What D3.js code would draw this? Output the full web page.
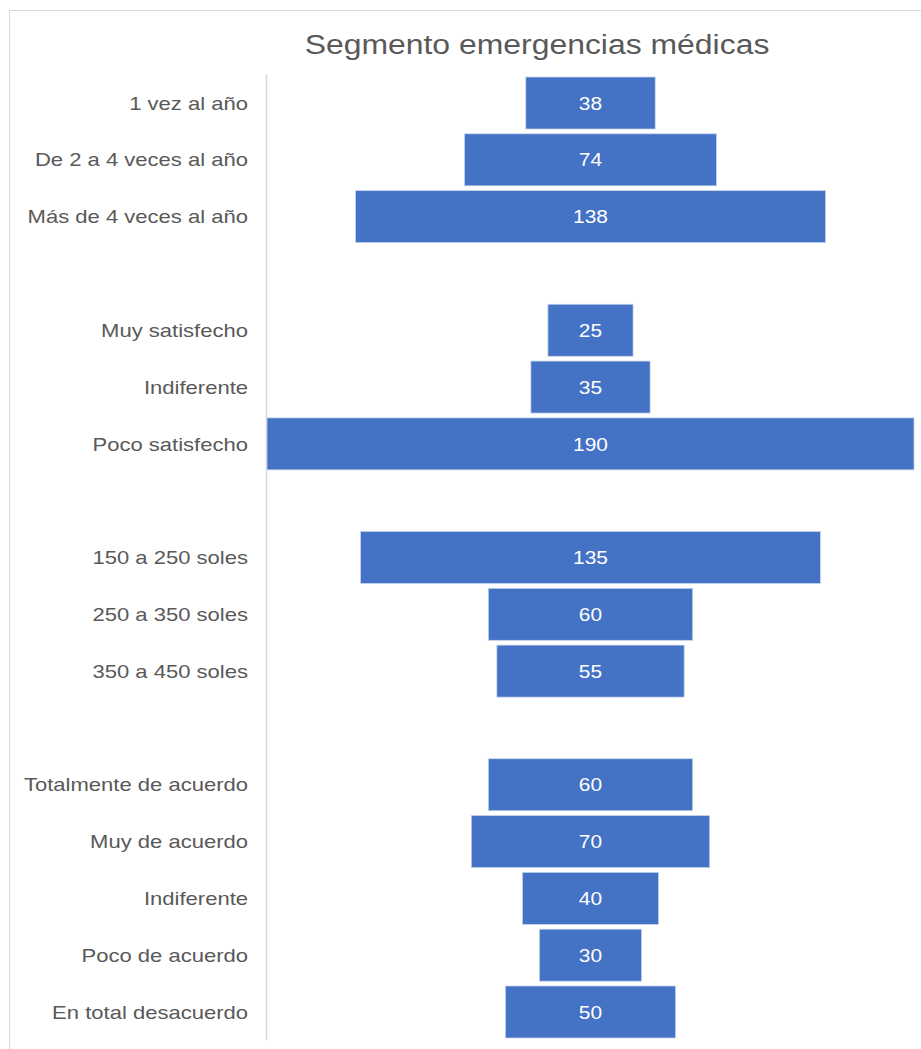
<!DOCTYPE html>
<html><head><meta charset="utf-8">
<script src="https://cdn.jsdelivr.net/npm/d3@7"></script>
<style>body{margin:0;background:#fff}svg{display:block}</style>
</head><body>
<svg id="c" width="921" height="1049"></svg>
<script>
const categories = ["1 vez al año","De 2 a 4 veces al año","Más de 4 veces al año","",
  "Muy satisfecho","Indiferente","Poco satisfecho","",
  "150 a 250 soles","250 a 350 soles","350 a 450 soles","",
  "Totalmente de acuerdo","Muy de acuerdo","Indiferente","Poco de acuerdo","En total desacuerdo"];
const values = [38,74,138,null,25,35,190,null,135,60,55,null,60,70,40,30,50];
const title = "Segmento emergencias médicas";

const svg = d3.select("#c");
svg.append("rect").attr("x",9.5).attr("y",10.5).attr("width",930).attr("height",1060)
  .attr("fill","#fff").attr("stroke","#d9d9d9");

const pLeft = 267, pRight = 914, pTop = 74.6, pBottom = 1040.4;
const keys = categories.map((d,i)=>i);
const y = d3.scaleBand().domain(keys).range([pTop,pBottom]).paddingInner(0.085).paddingOuter(0.0425);
const w = d3.scaleLinear().domain([0, d3.max(values)]).range([0, pRight-pLeft]);
const cx = (pLeft+pRight)/2;

svg.append("text").attr("transform","translate(537,54) scale(1.14,1)").attr("text-anchor","middle")
  .attr("font-family","Liberation Sans, Arial, sans-serif").attr("font-size",28)
  .attr("fill","#595959").text(title);

svg.append("line").attr("x1",266.5).attr("x2",266.5).attr("y1",pTop).attr("y2",pBottom)
  .attr("stroke","#d9d9d9").attr("stroke-width",1.5);

const rows = keys.filter(i=>values[i]!=null);
svg.selectAll("rect.bar").data(rows).join("rect").attr("class","bar")
  .attr("x",i=>cx - w(values[i])/2).attr("width",i=>w(values[i]))
  .attr("y",i=>y(i)).attr("height",y.bandwidth())
  .attr("fill","#4472c4").attr("stroke","#c5d3ee").attr("stroke-width",0.75);

svg.selectAll("text.val").data(rows).join("text").attr("class","val")
  .attr("transform",i=>`translate(${cx},${y(i)+y.bandwidth()/2}) scale(1.1,1)`).attr("dy","0.35em")
  .attr("text-anchor","middle").attr("fill","#fff")
  .attr("font-family","Liberation Sans, Arial, sans-serif").attr("font-size",19)
  .text(i=>values[i]);

svg.selectAll("text.cat").data(rows).join("text").attr("class","cat")
  .attr("transform",i=>`translate(248,${y(i)+y.bandwidth()/2}) scale(1.16,1)`).attr("dy","0.35em")
  .attr("text-anchor","end").attr("fill","#595959")
  .attr("font-family","Liberation Sans, Arial, sans-serif").attr("font-size",19)
  .text(i=>categories[i]);
</script>
</body></html>
